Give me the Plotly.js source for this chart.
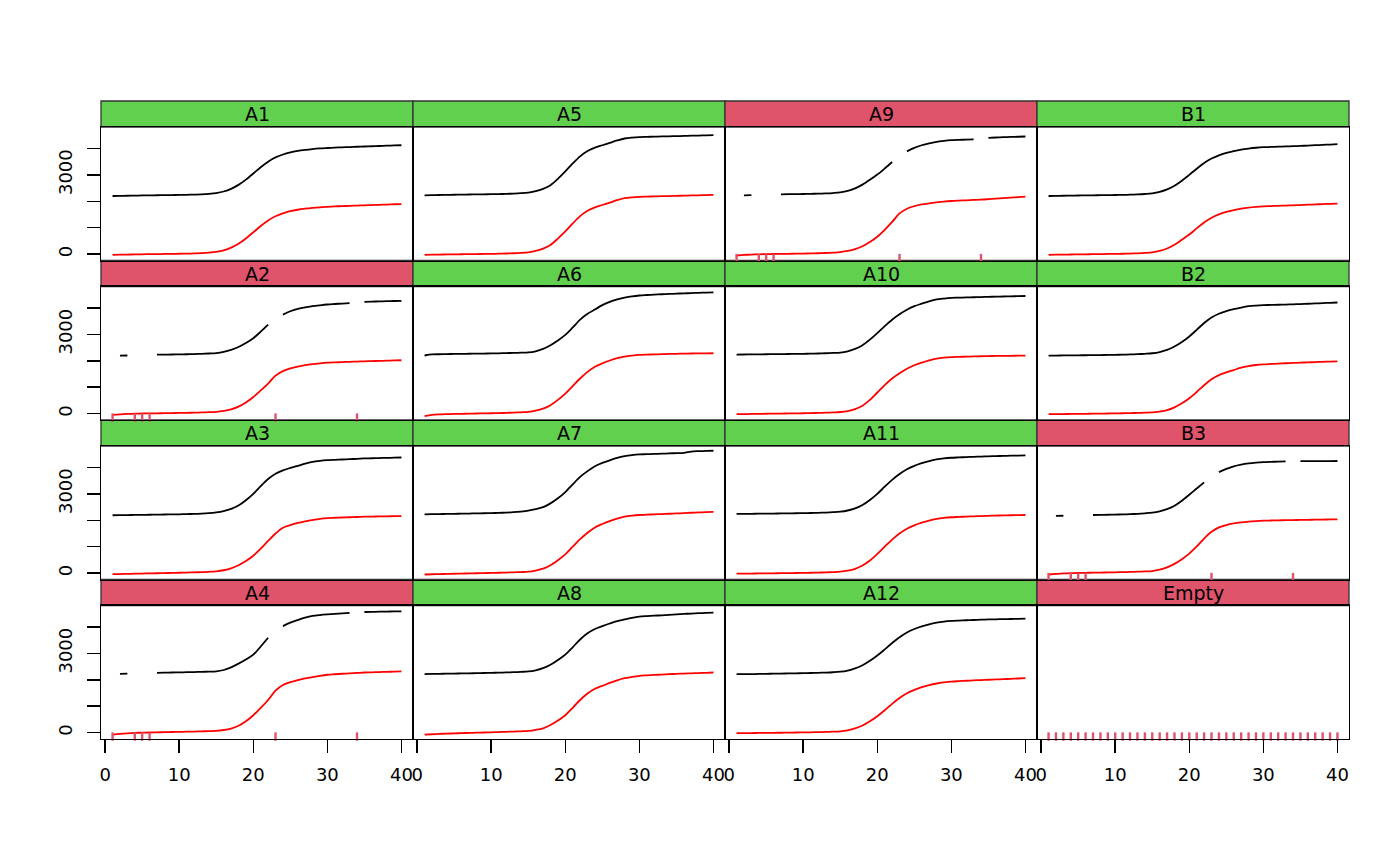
<!DOCTYPE html>
<html><head><meta charset="utf-8">
<script src="https://cdn.plot.ly/plotly-3.0.1.min.js"></script>
<style>html,body{margin:0;padding:0;background:#fff}</style>
</head><body><div id="chart" style="width:1400px;height:866px"></div>
<script>
const cycles = [1,2,3,4,5,6,7,8,9,10,11,12,13,14,15,16,17,18,19,20,21,22,23,24,25,26,27,28,29,30,31,32,33,34,35,36,37,38,39,40];

// panel order, row-major as displayed
const wells = ["A1","A5","A9","B1","A2","A6","A10","B2","A3","A7","A11","B3","A4","A8","A12","Empty"];
const status = ["ok","ok","bad","ok","bad","ok","ok","ok","ok","ok","ok","bad","bad","ok","ok","bad"];
const missingCycles = [1,4,5,6,23,34];
const xTicks = [0,10,20,30,40];
const yTicks = [0,1000,2000,3000,4000];
const yTickText = ["0","","","3000",""];

const rawA1 = [2200,2205,2210,2215,2220,2225,2228,2232,2236,2240,2245,2252,2262,2280,2310,2370,2470,2620,2820,3050,3290,3500,3660,3770,3850,3905,3945,3975,3998,4015,4030,4042,4052,4062,4072,4082,4092,4102,4112,4120];
const corA1 = [-25,-20,-15,-10,-5,0,3,7,11,15,20,27,37,55,85,145,245,395,595,825,1065,1275,1435,1545,1625,1680,1720,1750,1773,1790,1805,1817,1827,1837,1847,1857,1867,1877,1887,1895];
const rawA5 = [2226,2232,2238,2243,2248,2252,2256,2260,2264,2268,2273,2280,2290,2305,2330,2380,2470,2610,2850,3130,3430,3700,3900,4030,4120,4210,4300,4375,4410,4430,4438,4445,4452,4458,4465,4472,4480,4487,4494,4500];
const corA5 = [-25,-20,-15,-11,-7,-3,0,4,8,12,17,24,34,48,70,120,210,350,590,860,1160,1440,1640,1770,1860,1950,2040,2115,2150,2170,2178,2185,2192,2198,2205,2212,2220,2227,2234,2240];
const rawA9 = [null,2226,2232,null,null,null,2264,2268,2272,2276,2281,2288,2298,2312,2335,2390,2490,2630,2810,3010,3240,3485,null,3890,4020,4120,4195,4250,4285,4310,4322,4332,4340,null,4400,4412,4424,4434,4442,4450];
const corA9 = [-50,-30,-15,-5,0,5,10,14,18,22,27,34,44,58,78,120,190,300,460,660,920,1220,1540,1720,1815,1880,1925,1960,1988,2010,2025,2038,2050,2062,2080,2100,2120,2140,2158,2175];
const rawB1 = [2200,2205,2210,2214,2218,2222,2226,2230,2234,2238,2243,2250,2260,2276,2300,2355,2450,2590,2780,3000,3230,3450,3620,3740,3830,3900,3955,3995,4025,4045,4055,4065,4075,4085,4095,4108,4121,4134,4147,4160];
const corB1 = [-25,-21,-17,-13,-9,-5,-1,3,7,11,16,23,33,48,70,125,215,355,545,740,975,1195,1375,1505,1595,1665,1720,1760,1788,1808,1818,1828,1838,1848,1858,1870,1882,1894,1904,1912];
const rawA2 = [null,2195,2200,null,null,null,2230,2234,2238,2242,2247,2254,2263,2275,2290,2335,2410,2520,2670,2855,3100,3365,null,3745,3875,3960,4020,4065,4100,4130,4148,4165,4180,null,4230,4238,4246,4254,4262,4270];
const corA2 = [-45,-25,-10,0,5,10,14,18,22,26,31,37,45,55,68,105,165,265,420,630,880,1140,1440,1610,1710,1780,1835,1875,1905,1928,1940,1950,1960,1970,1980,1988,1996,2004,2012,2020];
const rawA6 = [2200,2240,2248,2254,2258,2262,2266,2270,2274,2278,2283,2290,2298,2305,2315,2360,2450,2590,2770,2980,3260,3555,3780,3940,4105,4230,4320,4385,4435,4470,4488,4503,4516,4528,4540,4550,4560,4570,4580,4590];
const corA6 = [-95,-50,-30,-20,-12,-6,0,5,10,15,21,29,39,52,70,115,190,320,520,760,1040,1330,1580,1775,1900,2010,2100,2160,2195,2220,2232,2242,2250,2258,2265,2270,2275,2279,2282,2285];
const rawA10 = [2235,2238,2241,2244,2247,2250,2253,2256,2260,2264,2269,2276,2285,2296,2310,2360,2450,2590,2800,3045,3310,3555,3760,3930,4065,4160,4250,4320,4355,4380,4388,4396,4403,4410,4420,4426,4432,4438,4444,4450];
const corA10 = [-20,-16,-12,-8,-4,0,4,8,12,16,21,28,37,48,62,100,170,300,520,800,1080,1330,1530,1700,1830,1930,2020,2085,2120,2140,2148,2156,2164,2172,2180,2183,2186,2189,2192,2195];
const rawB2 = [2195,2198,2201,2204,2207,2210,2213,2217,2221,2225,2231,2239,2250,2265,2285,2330,2410,2540,2710,2920,3170,3430,3640,3780,3875,3950,4015,4065,4090,4105,4112,4120,4128,4136,4145,4157,4169,4181,4193,4205];
const corB2 = [-20,-17,-14,-11,-8,-5,-2,2,6,10,15,21,28,36,45,80,135,240,390,580,820,1075,1300,1460,1560,1650,1740,1800,1840,1865,1880,1893,1906,1918,1930,1940,1950,1960,1970,1980];
const rawA3 = [2190,2194,2198,2202,2206,2210,2214,2218,2222,2227,2233,2241,2252,2270,2300,2350,2430,2560,2760,3000,3290,3560,3760,3890,3980,4060,4140,4210,4250,4275,4288,4300,4312,4325,4340,4347,4354,4361,4368,4375];
const corA3 = [-40,-33,-27,-21,-15,-9,-3,3,9,15,22,30,40,52,70,110,180,300,460,660,930,1220,1500,1720,1820,1900,1960,2010,2055,2085,2095,2105,2115,2125,2135,2140,2145,2150,2155,2160];
const rawA7 = [2225,2230,2235,2240,2245,2250,2255,2260,2266,2272,2280,2290,2305,2330,2365,2420,2495,2640,2830,3065,3360,3640,3860,4045,4170,4270,4360,4425,4465,4490,4500,4510,4520,4530,4540,4550,4600,4615,4622,4630];
const corA7 = [-50,-42,-35,-28,-22,-16,-10,-4,2,8,15,23,32,42,55,100,170,300,490,710,1000,1285,1530,1730,1860,1970,2060,2135,2175,2200,2212,2224,2236,2248,2260,2270,2285,2297,2306,2315];
const rawA11 = [2240,2243,2246,2249,2252,2255,2258,2262,2266,2270,2275,2282,2292,2305,2325,2370,2450,2580,2770,3000,3270,3530,3750,3930,4060,4160,4240,4300,4340,4365,4378,4390,4400,4410,4420,4428,4436,4443,4449,4455];
const corA11 = [-20,-17,-14,-11,-8,-5,-2,2,6,10,15,21,29,40,55,95,165,290,480,730,1000,1270,1500,1680,1810,1910,1990,2050,2090,2115,2128,2140,2150,2160,2170,2177,2184,2190,2195,2200];
const rawB3 = [null,2165,2172,null,null,null,2200,2205,2210,2215,2222,2232,2246,2265,2290,2340,2420,2550,2740,2965,3200,3435,null,3820,3945,4040,4105,4150,4180,4200,4210,4218,4225,null,4238,4239,4240,4240,4241,4242];
const corB3 = [-50,-30,-12,0,6,12,18,23,28,33,39,46,55,65,78,130,220,350,530,740,1010,1310,1565,1730,1820,1880,1920,1950,1970,1985,1992,1998,2003,2008,2012,2017,2022,2027,2031,2035];
const rawA4 = [null,2225,2232,null,null,null,2265,2270,2275,2280,2286,2293,2300,2308,2318,2370,2470,2610,2770,2950,3260,3590,null,4030,4160,4260,4350,4415,4450,4475,4495,4513,4530,null,4565,4570,4575,4580,4585,4590];
const corA4 = [-75,-45,-25,-10,-2,5,12,18,24,30,36,42,49,57,67,100,155,260,430,660,940,1235,1590,1805,1910,1990,2055,2100,2150,2190,2210,2228,2245,2260,2275,2283,2292,2300,2308,2315];
const rawA8 = [2215,2220,2225,2230,2235,2240,2245,2250,2256,2262,2269,2277,2287,2300,2315,2360,2440,2570,2750,2950,3230,3525,3760,3920,4030,4130,4220,4285,4345,4390,4410,4425,4440,4455,4475,4490,4505,4518,4530,4540];
const corA8 = [-75,-60,-48,-37,-27,-18,-10,-2,6,14,22,31,41,52,65,105,165,290,460,660,940,1235,1480,1660,1770,1880,1980,2060,2110,2150,2168,2184,2198,2212,2225,2235,2245,2255,2265,2275];
const rawA12 = [2215,2212,2215,2220,2225,2230,2235,2240,2245,2250,2256,2263,2272,2285,2305,2350,2430,2550,2720,2920,3150,3390,3610,3790,3920,4020,4100,4160,4200,4225,4240,4252,4262,4272,4282,4288,4294,4300,4305,4310];
const corA12 = [-20,-18,-15,-12,-9,-6,-3,1,5,9,14,20,28,38,52,90,160,270,430,620,850,1090,1310,1490,1620,1720,1800,1860,1900,1930,1948,1964,1978,1990,2002,2013,2024,2035,2048,2060];

const rawSeries = {A1:rawA1,A5:rawA5,A9:rawA9,B1:rawB1,A2:rawA2,A6:rawA6,A10:rawA10,B2:rawB2,A3:rawA3,A7:rawA7,A11:rawA11,B3:rawB3,A4:rawA4,A8:rawA8,A12:rawA12};
const corSeries = {A1:corA1,A5:corA5,A9:corA9,B1:corB1,A2:corA2,A6:corA6,A10:corA10,B2:corB2,A3:corA3,A7:corA7,A11:corA11,B3:corB3,A4:corA4,A8:corA8,A12:corA12};

const GREEN = "#61D04F", PINK = "#DF536B";
const FONT = "DejaVu Sans, Verdana, sans-serif";
const YR = [-240, 4810], XR = [-0.56, 41.56];
const RUG_Y = -148;
const stripFrac = 26/638;

const traces = [], shapes = [], annotations = [];
const layout = {
  width: 1400, height: 866,
  margin: {l: 101, r: 51, t: 101, b: 127, pad: 0},
  paper_bgcolor: "#fff", plot_bgcolor: "#fff",
  showlegend: false,
  font: {family: FONT, size: 18, color: "#000"}
};

wells.forEach((w, i) => {
  const r = Math.floor(i / 4), c = i % 4, k = i + 1;
  const xs = k === 1 ? "x" : "x" + k, ys = k === 1 ? "y" : "y" + k;
  const xa = k === 1 ? "xaxis" : "xaxis" + k, ya = k === 1 ? "yaxis" : "yaxis" + k;
  const top = 1 - r / 4, bottom = 1 - (r + 1) / 4;
  layout[xa] = {
    domain: [c / 4, (c + 1) / 4], range: XR, anchor: ys,
    showgrid: false, zeroline: false, showline: true, mirror: true,
    linecolor: "#000", linewidth: 1.3,
    tickmode: "array", tickvals: r === 3 ? xTicks : [],
    ticks: r === 3 ? "outside" : "", ticklen: 13, tickwidth: 1.5, tickcolor: "#000",
    showticklabels: r === 3, ticklabelstandoff: 6,
    tickfont: {family: FONT, size: 18, color: "#000"}
  };
  layout[ya] = {
    domain: [bottom, top - stripFrac], range: YR, anchor: xs,
    showgrid: false, zeroline: false, showline: true, mirror: true,
    linecolor: "#000", linewidth: 1.3,
    tickmode: "array", tickvals: c === 0 ? yTicks : [], ticktext: c === 0 ? yTickText : [],
    ticks: c === 0 ? "outside" : "", ticklen: 13, tickwidth: 1.5, tickcolor: "#000",
    showticklabels: c === 0, tickangle: -90, ticklabelstandoff: 8,
    tickfont: {family: FONT, size: 18, color: "#000"}
  };
  // strip
  shapes.push({type: "rect", xref: "paper", yref: "paper",
    x0: c / 4, x1: (c + 1) / 4, y0: top - stripFrac, y1: top,
    fillcolor: status[i] === "ok" ? GREEN : PINK, line: {color: "#333", width: 1.3}, layer: "below"});
  annotations.push({xref: "paper", yref: "paper", x: (c + 0.5) / 4, y: top - stripFrac / 2,
    text: w, showarrow: false, xanchor: "center", yanchor: "middle",
    font: {family: FONT, size: 19, color: "#000"}});
  if (rawSeries[w]) {
    traces.push({x: cycles, y: rawSeries[w], xaxis: xs, yaxis: ys, type: "scatter", mode: "lines",
      line: {color: "#000", width: 1.8, shape: "spline", smoothing: 0.9}, connectgaps: false, hoverinfo: "skip"});
    traces.push({x: cycles, y: corSeries[w], xaxis: xs, yaxis: ys, type: "scatter", mode: "lines",
      line: {color: "#FF0000", width: 1.8, shape: "spline", smoothing: 0.9}, hoverinfo: "skip"});
  }
  if (status[i] === "bad") {
    const rx = w === "Empty" ? cycles : missingCycles;
    traces.push({x: rx, y: rx.map(() => RUG_Y), xaxis: xs, yaxis: ys, type: "scatter", mode: "markers",
      marker: {symbol: "line-ns-open", size: 6, color: PINK, line: {color: PINK, width: 2.4}},
      hoverinfo: "skip", cliponaxis: false});
  }
});
layout.shapes = shapes;
layout.annotations = annotations;
Plotly.newPlot("chart", traces, layout, {staticPlot: true, displayModeBar: false});
</script></body></html>
